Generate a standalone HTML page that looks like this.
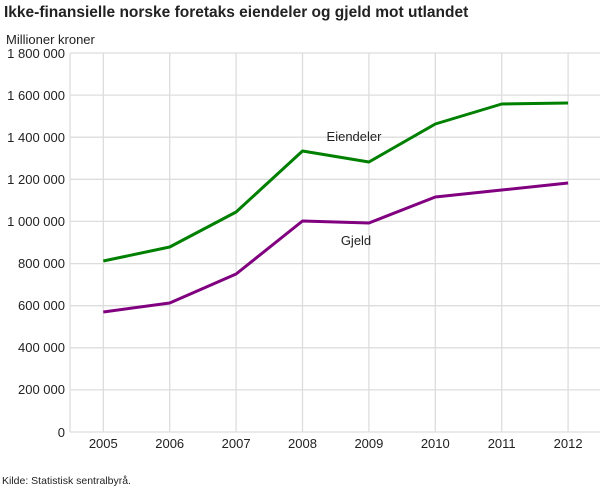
<!DOCTYPE html>
<html><head><meta charset="utf-8"><style>
body{margin:0;background:#fff;width:610px;height:488px;overflow:hidden}
svg text{font-family:"Liberation Sans","DejaVu Sans",sans-serif;fill:#222}
</style></head><body>
<svg width="610" height="488" xmlns="http://www.w3.org/2000/svg">
<text x="4" y="17" font-size="15.5" font-weight="bold" fill="#000">Ikke-finansielle norske foretaks eiendeler og gjeld mot utlandet</text>
<text x="6" y="44" font-size="13">Millioner kroner</text>
<g stroke="#ddd" stroke-width="1.3">
<line x1="70" x2="600" y1="53" y2="53"/><line x1="70" x2="600" y1="95.1" y2="95.1"/><line x1="70" x2="600" y1="137.2" y2="137.2"/><line x1="70" x2="600" y1="179.3" y2="179.3"/><line x1="70" x2="600" y1="221.4" y2="221.4"/><line x1="70" x2="600" y1="263.6" y2="263.6"/><line x1="70" x2="600" y1="305.7" y2="305.7"/><line x1="70" x2="600" y1="347.8" y2="347.8"/><line x1="70" x2="600" y1="389.9" y2="389.9"/><line x1="70" x2="600" y1="432" y2="432"/>
<line x1="70" x2="70" y1="53" y2="432"/>
<line x1="103.3" x2="103.3" y1="53" y2="432"/><line x1="169.7" x2="169.7" y1="53" y2="432"/><line x1="236.1" x2="236.1" y1="53" y2="432"/><line x1="302.5" x2="302.5" y1="53" y2="432"/><line x1="368.9" x2="368.9" y1="53" y2="432"/><line x1="435.3" x2="435.3" y1="53" y2="432"/><line x1="501.7" x2="501.7" y1="53" y2="432"/><line x1="568.1" x2="568.1" y1="53" y2="432"/>
</g>
<g font-size="13" text-anchor="end">
<text x="65" y="58">1 800 000</text><text x="65" y="100">1 600 000</text><text x="65" y="142">1 400 000</text><text x="65" y="184">1 200 000</text><text x="65" y="226">1 000 000</text><text x="65" y="268">800 000</text><text x="65" y="310">600 000</text><text x="65" y="352">400 000</text><text x="65" y="394">200 000</text><text x="65" y="437">0</text>
</g>
<g font-size="13" text-anchor="middle">
<text x="103.3" y="448">2005</text><text x="169.7" y="448">2006</text><text x="236.1" y="448">2007</text><text x="302.5" y="448">2008</text><text x="368.9" y="448">2009</text><text x="435.3" y="448">2010</text><text x="501.7" y="448">2011</text><text x="568.1" y="448">2012</text>
</g>
<polyline fill="none" stroke="#008000" stroke-width="3" stroke-linejoin="round" points="103.3,261 169.7,247 236.1,212 302.5,151 368.9,162 435.3,124 501.7,104 568.1,103"/>
<polyline fill="none" stroke="#800080" stroke-width="3" stroke-linejoin="round" points="103.3,312 169.7,303 236.1,274 302.5,221 368.9,223 435.3,197 501.7,190 568.1,183"/>
<text x="354" y="141" font-size="13" text-anchor="middle">Eiendeler</text>
<text x="356" y="245" font-size="13" text-anchor="middle">Gjeld</text>
<text x="2" y="484" font-size="10.5">Kilde: Statistisk sentralbyrå.</text>
</svg>
</body></html>
